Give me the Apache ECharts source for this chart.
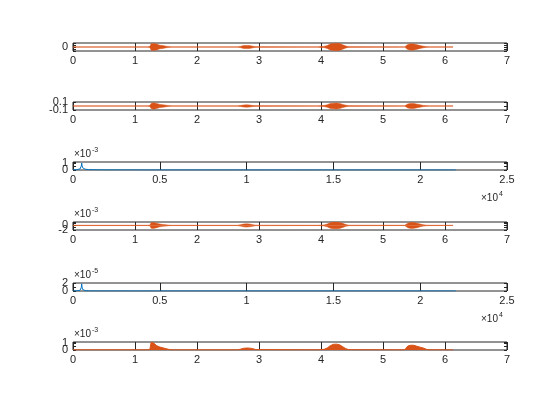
<!DOCTYPE html>
<html><head><meta charset="utf-8">
<script src="https://cdn.jsdelivr.net/npm/echarts@6/dist/echarts.min.js"></script>
<style>html,body{margin:0;padding:0;background:#fff}#c{width:560px;height:420px}</style>
</head><body><div id="c"></div><script>
// ---- data ----
const waveT    = [0, 1.2, 1.24, 1.26, 1.3, 1.35, 1.4, 1.45, 1.5, 1.55, 1.6, 2.65, 2.7, 2.75, 2.8, 2.85, 2.9, 2.95, 3.95, 4.0, 4.05, 4.1, 4.15, 4.2, 4.25, 4.3, 4.35, 4.4, 4.45, 5.35, 5.4, 5.45, 5.5, 5.55, 5.6, 5.65, 5.7, 5.75, 6.13];
const wave1Amp = [0.03, 0.03, 0.1, 0.8, 0.9, 0.75, 0.45, 0.35, 0.2, 0.08, 0.03, 0.03, 0.15, 0.35, 0.4, 0.35, 0.2, 0.05, 0.03, 0.1, 0.15, 0.35, 0.75, 0.9, 0.95, 0.85, 0.55, 0.25, 0.05, 0.03, 0.65, 0.8, 0.75, 0.55, 0.35, 0.2, 0.08, 0.03, 0.03];
const wave2Amp = [0.003, 0.003, 0.01, 0.065, 0.08, 0.065, 0.04, 0.03, 0.02, 0.008, 0.003, 0.003, 0.01, 0.025, 0.03, 0.025, 0.012, 0.004, 0.003, 0.008, 0.012, 0.03, 0.06, 0.07, 0.075, 0.065, 0.04, 0.02, 0.005, 0.003, 0.05, 0.065, 0.06, 0.045, 0.03, 0.015, 0.006, 0.003, 0.003];
const wave4Amp = [0.05, 0.05, 0.15, 1.2, 1.3, 1.0, 0.6, 0.4, 0.25, 0.1, 0.05, 0.05, 0.3, 0.6, 0.7, 0.6, 0.35, 0.08, 0.05, 0.12, 0.2, 0.6, 1.2, 1.45, 1.45, 1.3, 0.9, 0.4, 0.08, 0.05, 1.0, 1.3, 1.25, 1.0, 0.6, 0.3, 0.1, 0.05, 0.05]; // x1e-3
const env6     = [0.02, 0.02, 0.1, 1.15, 1.05, 0.65, 0.45, 0.32, 0.2, 0.08, 0.02, 0.02, 0.12, 0.25, 0.3, 0.28, 0.2, 0.06, 0.02, 0.06, 0.1, 0.3, 0.65, 0.85, 0.88, 0.78, 0.5, 0.2, 0.05, 0.02, 0.6, 0.72, 0.7, 0.55, 0.42, 0.3, 0.1, 0.03, 0.02]; // x1e-3
const specF    = [0, 100, 200, 300, 400, 450, 480, 500, 520, 550, 600, 650, 700, 740, 760, 800, 900, 1000, 1200, 1400, 1450, 1500, 1700, 2000, 3000, 5000, 10000, 15000, 22050];
const spec3    = [0.02, 0.03, 0.05, 0.08, 0.15, 0.3, 0.6, 1.05, 0.7, 0.35, 0.15, 0.1, 0.12, 0.3, 0.15, 0.08, 0.06, 0.05, 0.04, 0.03, 0.1, 0.03, 0.02, 0.015, 0.01, 0.005, 0.003, 0.002, 0.001]; // x1e-3
const spec5    = [0.02, 0.03, 0.04, 0.06, 0.15, 0.4, 0.9, 1.8, 1.0, 0.4, 0.15, 0.08, 0.1, 0.25, 0.1, 0.05, 0.04, 0.03, 0.02, 0.015, 0.05, 0.015, 0.01, 0.008, 0.005, 0.003, 0.002, 0.001, 0.001]; // x1e-5
const y1Labels = [0];
const y2Labels = [0.1, 0, -0.1];
const y3Labels = [1, 0];
const y4Labels = [0, -2];
const y5Labels = [2, 0];
const y6Labels = [1, 0];
const yExp = ['', '', '-3', '-3', '-5', '-3'];
const xExp = ['', '', '4', '', '4', ''];

// ---- layout / style ----
const FONT = '"Liberation Sans", Arial, Helvetica, sans-serif';
const TXT = '#262626', ORANGE = '#D95319', BLUE = '#0072BD';
const LEFT = 73, RIGHT = 53, H = 8;
const tops = [43, 102, 162, 222, 283, 342];

const panels = [
  {kind:'wave', amp:wave1Amp, unit:1,    yMin:-1,     yMax:1,     yInt:0.5,   yScale:1,    yLabels:y1Labels},
  {kind:'wave', amp:wave2Amp, unit:1,    yMin:-0.1,   yMax:0.1,   yInt:0.1,   yScale:1,    yLabels:y2Labels},
  {kind:'spec', amp:spec3,    unit:1e-3, yMin:0,      yMax:1.2e-3,yInt:0.5e-3,yScale:1e-3, yLabels:y3Labels},
  {kind:'wave', amp:wave4Amp, unit:1e-3, yMin:-2e-3,  yMax:1.5e-3,yInt:1e-3,  yScale:1e-3, yLabels:y4Labels},
  {kind:'spec', amp:spec5,    unit:1e-5, yMin:0,      yMax:2e-5,  yInt:1e-5,  yScale:1e-5, yLabels:y5Labels},
  {kind:'env',  amp:env6,     unit:1e-3, yMin:0,      yMax:1.2e-3,yInt:0.5e-3,yScale:1e-3, yLabels:y6Labels}
];

const labelStyle = {fontFamily: FONT, fontSize: 11, color: TXT};
const r6 = v => Math.round(v * 1e6) / 1e6;

const grid = [], xAxis = [], yAxis = [], series = [], graphic = [];
panels.forEach((p, i) => {
  grid.push({left: LEFT, right: RIGHT, top: tops[i], height: H, show: true,
             borderColor: TXT, borderWidth: 1, backgroundColor: '#fff', z: 0});
  const isSpec = p.kind === 'spec';
  xAxis.push({
    type: 'value', gridIndex: i,
    min: 0, max: isSpec ? 25000 : 7, interval: isSpec ? 5000 : 1,
    axisLine: {show: false}, axisTick: {show: false},
    splitLine: {show: true, lineStyle: {color: TXT, width: 1}},
    axisLabel: Object.assign({margin: 4, showMinLabel: true, showMaxLabel: true,
      formatter: v => isSpec ? String(r6(v / 1e4)) : String(r6(v))}, labelStyle)
  });
  const yBase = {type: 'value', gridIndex: i, min: p.yMin, max: p.yMax, interval: p.yInt,
    axisLine: {show: false}, splitLine: {show: false},
    axisTick: {show: true, inside: true, length: 3, lineStyle: {color: TXT, width: 1}}};
  yAxis.push(Object.assign({}, yBase, {position: 'left',
    axisLabel: Object.assign({margin: 5, showMinLabel: true, showMaxLabel: true,
      formatter: v => { const s = r6(v / p.yScale); return p.yLabels.some(l => Math.abs(l - s) < 1e-6) ? String(s) : ''; }
    }, labelStyle)}));
  yAxis.push(Object.assign({}, yBase, {position: 'right', axisLabel: {show: false}}));

  const yIdx = 2 * i;
  if (p.kind === 'wave') {
    series.push({type: 'line', xAxisIndex: i, yAxisIndex: yIdx, symbol: 'none', silent: true,
      data: [[waveT[0], 0], [waveT[waveT.length - 1], 0]],
      lineStyle: {color: 'rgba(217,83,25,0.4)', width: 1}, z: 2});
    series.push({type: 'line', xAxisIndex: i, yAxisIndex: yIdx, symbol: 'none', silent: true,
      data: waveT.map((t, k) => [t, p.amp[k] * p.unit]),
      lineStyle: {color: ORANGE, width: 0.5}, itemStyle: {color: ORANGE},
      areaStyle: {color: ORANGE, opacity: 1, origin: 'auto'}, z: 3});
    series.push({type: 'line', xAxisIndex: i, yAxisIndex: yIdx, symbol: 'none', silent: true,
      data: waveT.map((t, k) => [t, -p.amp[k] * p.unit]),
      lineStyle: {color: ORANGE, width: 0.5}, itemStyle: {color: ORANGE},
      areaStyle: {color: ORANGE, opacity: 1, origin: 'auto'}, z: 3});
  } else if (p.kind === 'env') {
    series.push({type: 'line', xAxisIndex: i, yAxisIndex: yIdx, symbol: 'none', silent: true,
      data: waveT.map((t, k) => [t, p.amp[k] * p.unit]),
      lineStyle: {color: ORANGE, width: 1}, itemStyle: {color: ORANGE},
      areaStyle: {color: ORANGE, opacity: 1, origin: 'start'}, z: 3});
  } else {
    series.push({type: 'line', xAxisIndex: i, yAxisIndex: yIdx, symbol: 'none', silent: true,
      data: specF.map((f, k) => [f, p.amp[k] * p.unit]),
      lineStyle: {color: BLUE, width: 1}, itemStyle: {color: BLUE}, z: 3});
  }

  const txt = (text, x, y, size, align) => ({type: 'text', x: x, y: y, silent: true, z: 10,
    style: {text: text, x: 0, y: 0, font: size + 'px ' + FONT, fill: TXT,
            textAlign: align || 'left', align: align || 'left',
            textVerticalAlign: 'middle', verticalAlign: 'middle'}});
  if (yExp[i]) {
    graphic.push(txt('\u00d710', LEFT + 1, tops[i] - 8, 10));
    graphic.push(txt(yExp[i], LEFT + 19, tops[i] - 12, 7));
  }
  if (xExp[i]) {
    graphic.push(txt('\u00d710', 481, tops[i] + H + 28, 10));
    graphic.push(txt(xExp[i], 499, tops[i] + H + 24, 7));
  }
});

const chart = echarts.init(document.getElementById('c'), null, {renderer: 'canvas'});
chart.setOption({animation: false, backgroundColor: '#fff',
  grid: grid, xAxis: xAxis, yAxis: yAxis, series: series, graphic: graphic});
</script></body></html>
